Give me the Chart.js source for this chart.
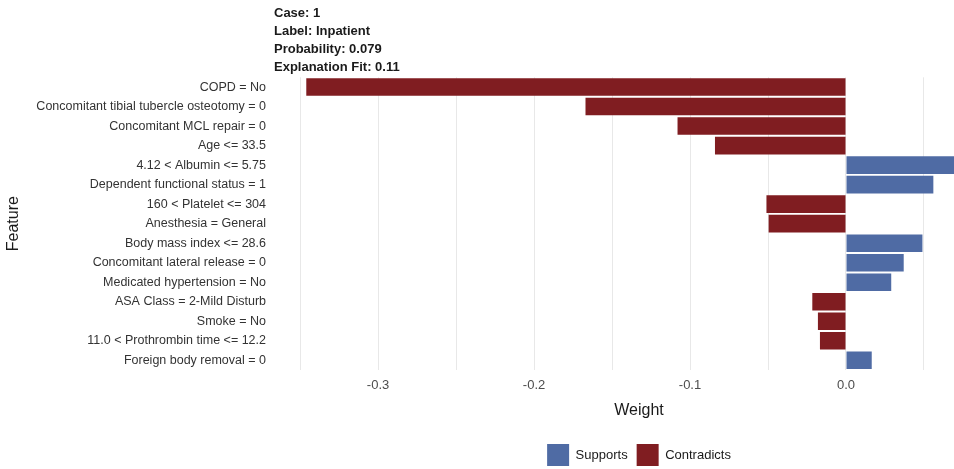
<!DOCTYPE html>
<html>
<head>
<meta charset="utf-8">
<script src="https://cdn.jsdelivr.net/npm/chart.js@4/dist/chart.umd.min.js"></script>
<style>
  html, body { margin: 0; padding: 0; background: #fff; overflow: hidden; }
  #wrap { width: 954px; height: 469px; overflow: hidden; }
</style>
</head>
<body>
<div id="wrap"><canvas id="lime" width="1010" height="469"></canvas></div>
<script>
// LIME explanation for one case: feature conditions and their weights
const features = [
  'COPD = No',
  'Concomitant tibial tubercle osteotomy = 0',
  'Concomitant MCL repair = 0',
  'Age <= 33.5',
  '4.12 < Albumin <= 5.75',
  'Dependent functional status = 1',
  '160 < Platelet <= 304',
  'Anesthesia = General',
  'Body mass index <= 28.6',
  'Concomitant lateral release = 0',
  'Medicated hypertension = No',
  'ASA Class = 2-Mild Disturb',
  'Smoke = No',
  '11.0 < Prothrombin time <= 12.2',
  'Foreign body removal = 0'
]
const weights = [
  -0.346, -0.167, -0.108, -0.084, 0.072, 0.056, -0.051, -0.0496,
  0.049, 0.037, 0.029, -0.0216, -0.018, -0.0167, 0.0165
]
const caseInfo = ['Case: 1', 'Label: Inpatient', 'Probability: 0.079', 'Explanation Fit: 0.11']
const gridTicks = [-0.35, -0.3, -0.25, -0.2, -0.15, -0.1, -0.05, 0, 0.05, 0.1]
const labelTicks = [-0.3, -0.2, -0.1, 0.0]

const BLUE = '#4f6ba4'
const RED = '#801d21'
const TEXT = '#4d4d4d'

Chart.defaults.font.family = "'Liberation Sans', Arial, sans-serif"

new Chart(document.getElementById('lime'), {
  type: 'bar',
  data: {
    labels: features,
    datasets: [
      {label: 'Supports', data: weights.map(w => w > 0 ? w : null), backgroundColor: BLUE},
      {label: 'Contradicts', data: weights.map(w => w < 0 ? w : null), backgroundColor: RED}
    ]
  },
  options: {
    indexAxis: 'y',
    responsive: false,
    animation: false,
    devicePixelRatio: 1,
    layout: {padding: 0},
    datasets: {bar: {grouped: false, barPercentage: 0.9, categoryPercentage: 1, borderWidth: 0}},
    scales: {
      x: {
        min: -0.3667,
        max: 0.1013,
        afterBuildTicks: s => { s.ticks = gridTicks.map(v => ({value: v})) },
        afterFit: s => { s.height = 65 },
        grid: {color: '#e8e8e8', lineWidth: 1, drawTicks: false},
        border: {display: false},
        ticks: {
          autoSkip: false, maxRotation: 0, padding: 8, color: TEXT, font: {size: 13},
          callback: v => labelTicks.some(t => Math.abs(t - v) < 1e-9) ? v.toFixed(1) : ''
        },
        title: {display: true, text: 'Weight', color: '#1a1a1a', font: {size: 16}, padding: {top: 0, bottom: 15}}
      },
      y: {
        afterFit: s => { s.width = 274 },
        grid: {display: false},
        border: {display: false},
        ticks: {autoSkip: false, padding: 0, color: '#333', font: {size: 12.5}},
        title: {display: true, text: 'Feature', color: '#1a1a1a', font: {size: 16}, padding: {top: 4, bottom: 0}}
      }
    },
    plugins: {
      title: {
        display: true, text: caseInfo, align: 'start', fullSize: false, color: '#1a1a1a',
        font: {size: 13, weight: 'bold', lineHeight: 1.4}, padding: {top: 4, bottom: 0.5}
      },
      legend: {
        position: 'bottom', fullSize: false, maxHeight: 34,
        labels: {boxWidth: 22, boxHeight: 22, color: '#1a1a1a', font: {size: 13}, padding: 9}
      },
      tooltip: {enabled: false}
    }
  }
})
</script>
</body>
</html>
